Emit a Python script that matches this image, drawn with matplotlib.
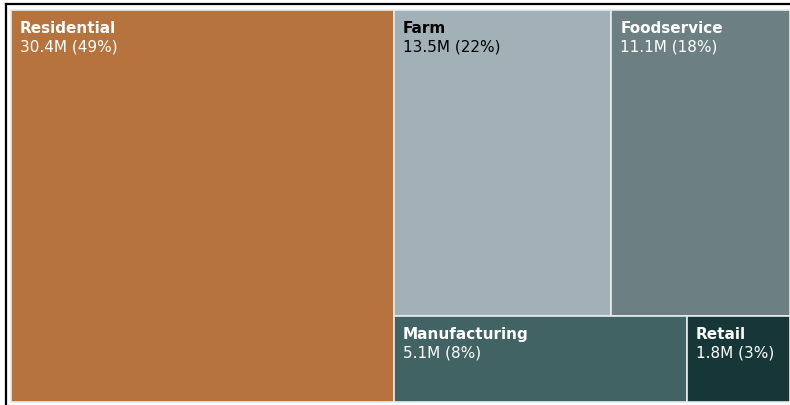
import matplotlib
matplotlib.use('Agg')
import matplotlib.pyplot as plt
from matplotlib.patches import Rectangle

plt.rcParams['font.family'] = 'DejaVu Sans'

# food waste by sector, million tonnes
categories = ['Residential', 'Farm', 'Foodservice', 'Manufacturing', 'Retail']
values = [30.4, 13.5, 11.1, 5.1, 1.8]
colors = ['#B7733E', '#A2B1B7', '#6C8083', '#426363', '#163638']
text_colors = ['white', 'black', 'white', 'white', 'white']

# nesting of the tiles: left column, then two rows on the right
layout = ['Residential', [['Farm', 'Foodservice'], ['Manufacturing', 'Retail']]]

value_of = dict(zip(categories, values))
total = sum(values)


def weight(node):
    if isinstance(node, str):
        return value_of[node]
    return sum(weight(n) for n in node)


def tile(node, x, y, w, h, across=True, out=None):
    """slice-and-dice: split along x when across, else along y"""
    if out is None:
        out = {}
    if isinstance(node, str):
        out[node] = (x, y, w, h)
        return out
    tot = weight(node)
    pos = 0.0
    for child in node:
        frac = weight(child) / tot
        if across:
            tile(child, x + pos * w, y, frac * w, h, not across, out)
        else:
            tile(child, x, y + pos * h, w, frac * h, not across, out)
        pos += frac
    return out


rects = tile(layout, 0, 0, 1, 1)

W, H = 790, 406
fig = plt.figure(figsize=(W / 100, H / 100), dpi=100)

# axes frame: left/top spines visible, right/bottom run past the figure edge
ax_l, ax_r, ax_t, ax_b = 6, 795, 5, 409
ax = fig.add_axes([ax_l / W, (H - ax_b) / H, (ax_r - ax_l) / W, (ax_b - ax_t) / H])
# tiles span 11..790 px across and 11..403 px down
aw, ah = ax_r - ax_l, ax_b - ax_t
sx = 779 / aw
sy = 392 / ah
x0 = -(11 - ax_l) / aw / sx
y0 = -(11 - ax_t) / ah / sy
ax.set_xlim(x0, x0 + 1 / sx)
ax.set_ylim(y0 + 1 / sy, y0)

for name, col, tcol in zip(categories, colors, text_colors):
    x, y, w, h = rects[name]
    ax.add_patch(Rectangle((x, y), w, h, facecolor=col, edgecolor='#e8ecec', linewidth=1.2))
    v = value_of[name]
    ax.annotate(name, (x, y), xytext=(9, -22), textcoords='offset pixels',
                color=tcol, fontsize=11, fontweight='bold', va='baseline', ha='left')
    ax.annotate(f'{v:.1f}M ({v / total:.0%})', (x, y), xytext=(9, -40),
                textcoords='offset pixels', color=tcol, fontsize=11,
                va='baseline', ha='left')

ax.set_xticks([])
ax.set_yticks([])
for s in ax.spines.values():
    s.set_linewidth(1.6)
    s.set_color('black')

fig.savefig('out.png', dpi=100)
